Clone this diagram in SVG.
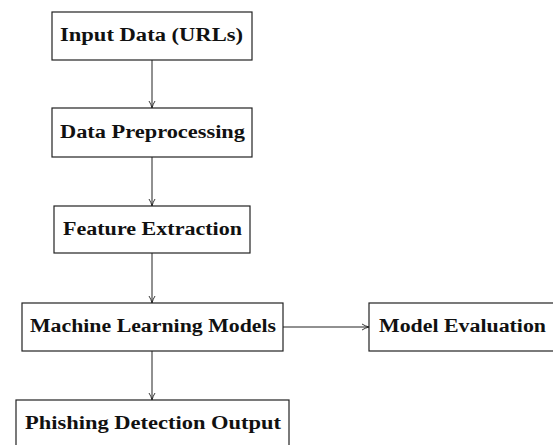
<svg xmlns="http://www.w3.org/2000/svg" width="553" height="445" viewBox="0 0 553 445">
<style>
.box{fill:#fff;stroke:#222;stroke-width:1.2}
.lbl{font-family:"Liberation Serif","DejaVu Serif",serif;font-weight:bold;font-size:18px;fill:#111;dominant-baseline:alphabetic}
.edge{stroke:#222;stroke-width:1;fill:none;marker-end:url(#ah)}
</style>
<defs>
<marker id="ah" viewBox="0 0 8 8" refX="8" refY="4" markerWidth="8" markerHeight="8" markerUnits="userSpaceOnUse" orient="auto">
<path d="M1,1 Q4,3 8,4 Q4,5 1,7" fill="none" stroke="#222" stroke-width="0.9"/>
</marker>
</defs>
<rect width="553" height="445" fill="#fff"/>
<g id="connectors">
<line class="edge" x1="152" y1="60" x2="152" y2="108"/>
<line class="edge" x1="152" y1="157" x2="152" y2="206"/>
<line class="edge" x1="152" y1="253" x2="152" y2="303"/>
<line class="edge" x1="152" y1="351" x2="152" y2="400"/>
<line class="edge" x1="283" y1="327" x2="369" y2="327"/>
</g>
<g id="n1"><rect class="box" x="52" y="12" width="200" height="48"/><text class="lbl" x="60" y="41" textLength="183" lengthAdjust="spacingAndGlyphs">Input Data (URLs)</text></g>
<g id="n2"><rect class="box" x="52" y="108" width="200" height="49"/><text class="lbl" x="60" y="138" textLength="185" lengthAdjust="spacingAndGlyphs">Data Preprocessing</text></g>
<g id="n3"><rect class="box" x="54" y="206" width="196" height="47"/><text class="lbl" x="63" y="235" textLength="179" lengthAdjust="spacingAndGlyphs">Feature Extraction</text></g>
<g id="n4"><rect class="box" x="22" y="303" width="261" height="48"/><text class="lbl" x="30" y="332" textLength="246" lengthAdjust="spacingAndGlyphs">Machine Learning Models</text></g>
<g id="n5"><rect class="box" x="16" y="400" width="273" height="50"/><text class="lbl" x="25" y="429" textLength="256" lengthAdjust="spacingAndGlyphs">Phishing Detection Output</text></g>
<g id="n6"><rect class="box" x="369" y="303" width="190" height="48"/><text class="lbl" x="379" y="332" textLength="167" lengthAdjust="spacingAndGlyphs">Model Evaluation</text></g>
</svg>
